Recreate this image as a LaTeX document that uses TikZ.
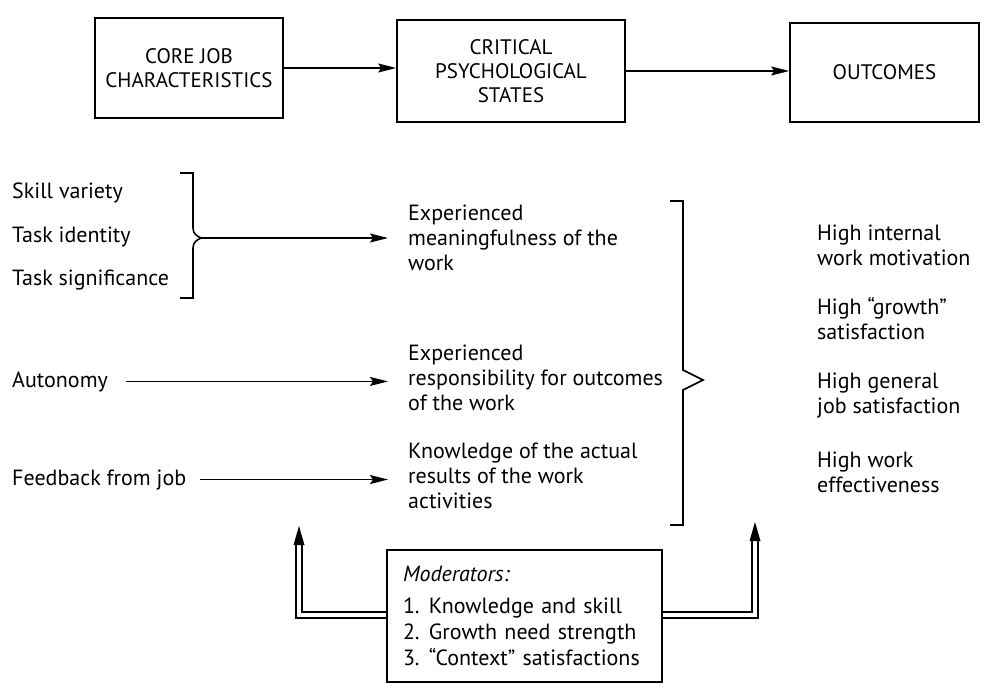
\documentclass[tikz,border=0pt]{standalone}
\usepackage{fontspec}
\setmainfont{PT Sans}
\usetikzlibrary{arrows.meta,calc}
\begin{document}
\begin{tikzpicture}[x=1pt,y=-1pt,
  hbox/.style={draw,line width=1.6pt,align=center,inner sep=0pt,font=\fontsize{21}{24}\selectfont},
  txt/.style={align=left,inner sep=0pt,font=\fontsize{22}{25}\selectfont},
  arr/.style={line width=1.6pt,-{Stealth[length=18pt,width=9pt,inset=3pt]}},
  brk/.style={line width=1.6pt,line join=miter},
  dbl/.style={line width=1.8pt,double distance=3.5pt,line join=miter},
  tip/.style={fill=black}
]
\useasboundingbox (0,0) rectangle (1003,687);
% header boxes
\node[hbox,minimum width=188pt,minimum height=100pt] (b1) at (189,68) {CORE JOB\\CHARACTERISTICS};
\node[hbox,minimum width=228pt,minimum height=102pt] (b2) at (511,71) {CRITICAL\\PSYCHOLOGICAL\\STATES};
\node[hbox,minimum width=189pt,minimum height=99pt] (b3) at (884.5,72.5) {OUTCOMES};
\draw[arr] (b1.east) -- (b1.east -| b2.west);
\draw[arr] (b2.east) -- (b2.east -| b3.west);
% left column
\node[txt,anchor=base west] (sv) at (12,198) {Skill variety};
\node[txt,anchor=base west] (ti) at (12,242) {Task identity};
\node[txt,anchor=base west] (ts) at (12,285) {Task significance};
\node[txt,anchor=base west] (au) at (12,387) {Autonomy};
\node[txt,anchor=base west] (fb) at (12,485) {Feedback from job};
% bracket 1
\draw[brk] (180,173) -- (193,173) -- (193,228) .. controls (193,234) and (197,236) .. (201,238)
  .. controls (197,240) and (193,242) .. (193,248) -- (193,298) -- (180,298);
\coordinate (bt) at (201,238);
% middle column
\node[txt,anchor=north west] (m1) at (408,205) {Experienced\\meaningfulness of the\\work};
\node[txt,anchor=north west] (m2) at (408,345) {Experienced\\responsibility for outcomes\\of the work};
\node[txt,anchor=north west] (m3) at (408,443) {Knowledge of the actual\\results of the work\\activities};
\draw[arr,shorten >=20pt] (bt) -- (bt -| m1.west);
\draw[arr,shorten <=18pt,shorten >=20pt] (au.east) -- (au.east -| m2.west);
\draw[arr,shorten <=14pt,shorten >=20pt] (fb.east) -- (fb.east -| m3.west);
% big bracket
\draw[brk] (670,201) -- (683,201) -- (683,370) -- (703,380) -- (683,390) -- (683,525) -- (670,525);
% outcomes
\node[txt,anchor=north west] (o1) at (817,225) {High internal\\work motivation};
\node[txt,anchor=north west] (o2) at (817,297) {High ``growth''\\satisfaction};
\node[txt,anchor=north west] (o3) at (817,373) {High general\\job satisfaction};
\node[txt,anchor=north west] (o4) at (817,452) {High work\\effectiveness};
% moderators
\node[draw,line width=1.6pt,minimum width=275pt,minimum height=132pt,inner xsep=16pt,inner ysep=0pt,
  text width=243pt,align=left,font=\fontsize{22}{26}\selectfont] (mod) at (524.5,616)
  {\textit{Moderators:}\\[6pt]
   \makebox[26pt][l]{1.}Knowledge and skill\\
   \makebox[26pt][l]{2.}Growth need strength\\
   \makebox[26pt][l]{3.}``Context'' satisfactions};
\coordinate (lt) at (299,526);
\coordinate (rt) at (755,522);
\draw[dbl] (mod.west |- 0,615) -| ($(lt)+(0,18)$);
\draw[dbl] (mod.east |- 0,615) -| ($(rt)+(0,18)$);
\fill[tip] (lt) -- ($(lt)+(-5.5,19)$) -- ($(lt)+(5.5,19)$) -- cycle;
\fill[tip] (rt) -- ($(rt)+(-5.5,19)$) -- ($(rt)+(5.5,19)$) -- cycle;
\end{tikzpicture}
\end{document}
